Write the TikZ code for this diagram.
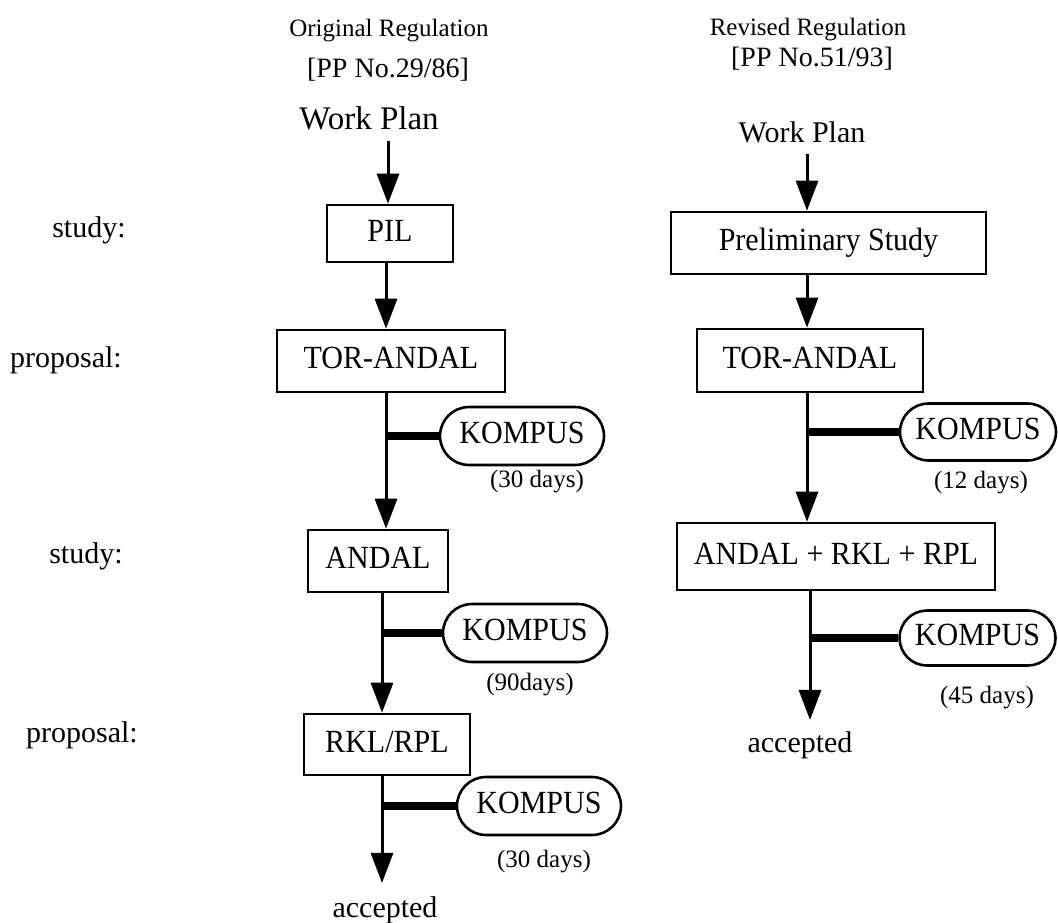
\documentclass[tikz,border=0pt]{standalone}
\usepackage{fontspec}
\setmainfont{Liberation Serif}
\newfontfamily\talltm[FakeStretch=0.93]{Liberation Serif}
\usetikzlibrary{arrows.meta,shapes.misc}
\newcommand\fbig{\fontsize{30}{36}\selectfont}
\newcommand\fboxtxt{\talltm\fontsize{32.3}{38}\selectfont}
\newcommand\fhead{\fontsize{25}{30}\selectfont}
\newcommand\fpp{\fontsize{28}{34}\selectfont}
\newcommand\fdays{\fontsize{25}{30}\selectfont}
\begin{document}
\begin{tikzpicture}[x=1pt,y=-1pt,
  box/.style={draw,line width=2.6pt,inner sep=0pt,font=\fboxtxt,text height=22pt,text depth=6.5pt},
  kbox/.style={draw,rounded rectangle,line width=2.6pt,inner sep=0pt,minimum width=164pt,minimum height=58pt,font=\fboxtxt,text height=22pt,text depth=6.5pt},
  lbl/.style={anchor=base,font=\fbig,inner sep=0pt},
  days/.style={anchor=base,font=\fdays,inner sep=0pt},
  arr/.style={line width=3pt,-{Triangle[length=30pt,width=22pt]}},
  conn/.style={line width=3pt},
  bar/.style={line width=8pt}]
\useasboundingbox (0,0) rectangle (1058,923);

% column x coordinates
\coordinate (L0) at (388,0);
\coordinate (L1) at (386,0);
\coordinate (L2) at (382,0);
\coordinate (R0) at (807,0);
\coordinate (R1) at (807,0);
\coordinate (R2) at (810,0);

% headers
\node[anchor=base,font=\fhead,inner sep=0pt] (h1) at (389,37) {Original Regulation};
\node[anchor=base,font=\fpp,inner sep=0pt] (p1) at (388,78) {[PP No.29/86]};
\node[anchor=base,font=\fontsize{33}{38}\selectfont,inner sep=0pt] (wp1) at (369,130) {Work Plan};
\node[anchor=base,font=\fhead,inner sep=0pt] (h2) at (808,36) {Revised Regulation};
\node[anchor=base,font=\fpp,inner sep=0pt] (p2) at (812,67) {[PP No.51/93]};
\node[anchor=base,font=\fbig,inner sep=0pt] (wp2) at (802,143) {Work Plan};

% side labels
\node[lbl] (s1) at (89,237) {study:};
\node[lbl] (s2) at (66,367) {proposal:};
\node[lbl] (s3) at (86,563) {study:};
\node[lbl] (s4) at (82,742) {proposal:};

% left column boxes
\node[box,minimum width=126pt,minimum height=57pt] (pil) at (390,233.5) {PIL};
\node[box,minimum width=228pt,minimum height=62pt] (tor1) at (391,361) {TOR-ANDAL};
\node[box,minimum width=140pt,minimum height=62pt] (andal1) at (378,561) {ANDAL};
\node[box,minimum width=166pt,minimum height=61pt] (rkl) at (387,744.5) {RKL/RPL};
\node[lbl] (acc1) at (385,917) {accepted};

\node[kbox] (k1) at (522,436) {KOMPUS};
\node[kbox] (k2) at (525,633) {KOMPUS};
\node[kbox] (k3) at (539,806) {KOMPUS};
\node[days] (d1) at (537,487) {(30 days)};
\node[days] (d2) at (530,690) {(90days)};
\node[days] (d3) at (544,867) {(30 days)};

% right column boxes
\node[box,minimum width=315pt,minimum height=62pt] (pre) at (828.5,243) {Preliminary Study};
\node[box,minimum width=226pt,minimum height=63pt] (tor2) at (810,360.5) {TOR-ANDAL};
\node[box,minimum width=318pt,minimum height=67pt] (arr2) at (836,556.5) {ANDAL + RKL + RPL};
\node[lbl] (acc2) at (800,752) {accepted};

\node[kbox,minimum width=156pt,minimum height=57pt] (k4) at (978,432) {KOMPUS};
\node[kbox,minimum width=156pt,minimum height=55pt] (k5) at (977.5,638) {KOMPUS};
\node[days] (d4) at (981,488) {(12 days)};
\node[days] (d5) at (987,703) {(45 days)};

% left connectors
\draw[arr] ([yshift=-10pt]wp1.south -| L0) -- (pil.north -| L0);
\draw[arr] (pil.south -| L1) -- (tor1.north -| L1);
\draw[arr] (tor1.south -| L1) -- (andal1.north -| L1);
\draw[arr] (andal1.south -| L2) -- (rkl.north -| L2);
\draw[arr] (rkl.south -| L2) -- ([yshift=13pt]acc1.north -| L2);
\draw[bar] (k1.west) -- (k1.west -| L1);
\draw[bar] (k2.west) -- (k2.west -| L2);
\draw[bar] (k3.west) -- (k3.west -| L2);

% right connectors
\draw[arr] ([yshift=-10pt]wp2.south -| R0) -- (pre.north -| R0);
\draw[arr] (pre.south -| R1) -- (tor2.north -| R1);
\draw[arr] (tor2.south -| R1) -- (arr2.north -| R1);
\draw[arr] (arr2.south -| R2) -- ([yshift=11pt]acc2.north -| R2);
\draw[bar] (k4.west) -- (k4.west -| R1);
\draw[bar] (k5.west) -- (k5.west -| R2);
\end{tikzpicture}
\end{document}
